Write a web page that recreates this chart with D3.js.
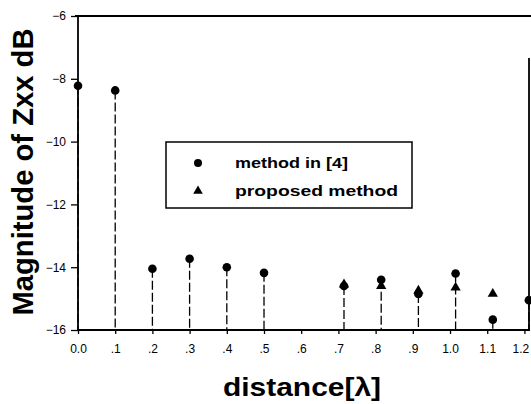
<!DOCTYPE html>
<html lang="en">
<head>
    <meta charset="utf-8">
    <title>Magnitude of Zxx</title>
    <style>
        body {
            margin: 0;
            background: #fff;
            font-family: "Liberation Sans", Arial, sans-serif;
        }
        .tick text {
            font-size: 12px;
            fill: #000;
        }
    </style>
</head>
<body>
<svg class="chart" width="531" height="404"></svg>
<script src="https://d3js.org/d3.v7.min.js"></script>
<script>
    // distance in wavelengths
    const distances = [0.0, 0.1, 0.2, 0.3, 0.4, 0.5, 0.715, 0.815, 0.915, 1.015, 1.115, 1.212];
    const methodIn4 = [-8.22, -8.37, -14.05, -13.73, -14.0, -14.18, -14.6, -14.4, -14.85, -14.2, -15.67, -15.05];
    const proposed = [null, null, null, null, null, null, -14.55, -14.6, -14.75, -14.65, -14.85, null];
    const xTicks = [0, 0.1, 0.2, 0.3, 0.4, 0.5, 0.6, 0.7, 0.8, 0.9, 1.0, 1.1, 1.2];
    const xTickLabels = ["0.0", ".1", ".2", ".3", ".4", ".5", ".6", ".7", ".8", ".9", "1.0", "1.1", "1.2"];
    const yTicks = [-16, -14, -12, -10, -8, -6];
    const legendLabels = ["method in [4]", "proposed method"];

    const plotLeft = 78, plotRight = 530, plotTop = 16, plotBottom = 330;

    const x = d3.scaleLinear().domain([0, 1.215]).range([plotLeft, plotRight]);
    const y = d3.scaleLinear().domain([-16, -6]).range([plotBottom, plotTop]);

    const svg = d3.select(".chart");

    // stems
    svg.append("g")
        .selectAll("line")
        .data(distances)
        .enter().append("line")
        .attr("x1", d => x(d))
        .attr("x2", d => x(d))
        .attr("y1", (d, i) => y(methodIn4[i]))
        .attr("y2", y(-16))
        .attr("stroke", "#000")
        .attr("stroke-width", 1.3)
        .attr("stroke-dasharray", "9,3");

    // axes
    const xAxis = d3.axisBottom(x)
        .tickValues(xTicks)
        .tickFormat((d, i) => xTickLabels[i])
        .tickSize(4)
        .tickPadding(10);
    const gx = svg.append("g")
        .attr("transform", "translate(0," + plotBottom + ")")
        .call(xAxis);
    gx.select(".domain").remove();
    // last label sits at the window edge
    gx.selectAll(".tick text").filter(d => d === 1.2).attr("dx", -4);

    const yAxis = d3.axisLeft(y)
        .tickValues(yTicks)
        .tickSize(7)
        .tickPadding(5);
    const gy = svg.append("g")
        .attr("transform", "translate(" + plotLeft + ",0)")
        .call(yAxis);
    gy.select(".domain").remove();
    gx.selectAll(".tick line").attr("stroke-width", 1.3);
    gy.selectAll(".tick line").attr("stroke-width", 1.3);

    // frame
    const frame = svg.append("g")
        .attr("stroke", "#000")
        .attr("stroke-width", 1.8)
        .attr("fill", "none");
    frame.append("line").attr("x1", plotLeft).attr("x2", plotLeft).attr("y1", plotTop).attr("y2", plotBottom + 1);
    frame.append("line").attr("x1", plotLeft).attr("x2", plotRight).attr("y1", plotBottom).attr("y2", plotBottom);
    frame.append("line").attr("x1", plotLeft - 3).attr("x2", 531).attr("y1", plotTop).attr("y2", plotTop);
    frame.append("line").attr("x1", plotRight - 1).attr("x2", plotRight - 1).attr("y1", 58).attr("y2", plotBottom);

    // markers
    svg.append("g")
        .selectAll("circle")
        .data(distances)
        .enter().append("circle")
        .attr("cx", d => x(d))
        .attr("cy", (d, i) => y(methodIn4[i]))
        .attr("r", 4.3)
        .attr("fill", "#000");

    const tri = d3.symbol().type(d3.symbolTriangle).size(46);
    svg.append("g")
        .selectAll("path")
        .data(distances.filter((d, i) => proposed[i] !== null))
        .enter().append("path")
        .attr("d", tri)
        .attr("transform", d => {
            const i = distances.indexOf(d);
            return "translate(" + x(d) + "," + y(proposed[i]) + ")";
        })
        .attr("fill", "#000");

    // legend
    const legend = svg.append("g");
    legend.append("rect")
        .attr("x", 166).attr("y", 142)
        .attr("width", 246).attr("height", 66)
        .attr("fill", "#fff")
        .attr("stroke", "#000")
        .attr("stroke-width", 1.5);
    legend.append("circle")
        .attr("cx", 198).attr("cy", 163).attr("r", 4)
        .attr("fill", "#000");
    legend.append("path")
        .attr("d", d3.symbol().type(d3.symbolTriangle).size(40))
        .attr("transform", "translate(198,191)")
        .attr("fill", "#000");
    legend.selectAll("text")
        .data(legendLabels)
        .enter().append("text")
        .attr("x", 235)
        .attr("y", (d, i) => 168 + i * 28)
        .attr("font-size", 15)
        .attr("font-weight", "bold")
        .attr("textLength", (d, i) => i === 0 ? 113 : 163)
        .attr("lengthAdjust", "spacingAndGlyphs")
        .text(d => d);

    // axis titles
    svg.append("text")
        .attr("x", 302)
        .attr("y", 396)
        .attr("text-anchor", "middle")
        .attr("font-size", 25)
        .attr("font-weight", "bold")
        .attr("textLength", 158)
        .attr("lengthAdjust", "spacingAndGlyphs")
        .text("distance[λ]");

    svg.append("text")
        .attr("transform", "translate(33,172) rotate(-90)")
        .attr("text-anchor", "middle")
        .attr("font-size", 29)
        .attr("font-weight", "bold")
        .attr("textLength", 287)
        .attr("lengthAdjust", "spacingAndGlyphs")
        .text("Magnitude of Zxx dB");
</script>
</body>
</html>
